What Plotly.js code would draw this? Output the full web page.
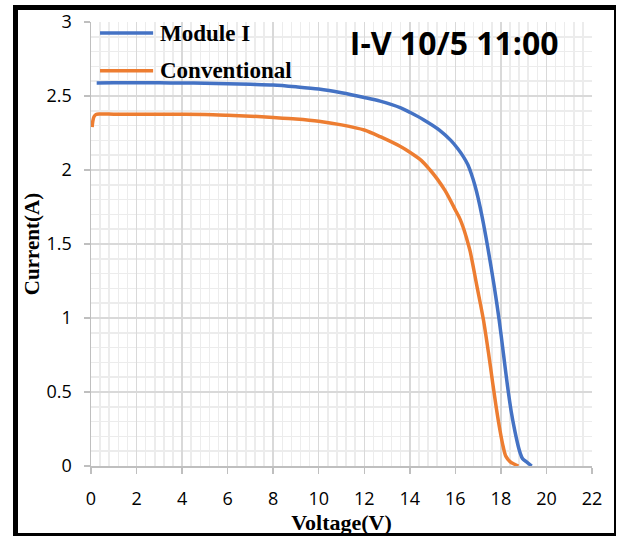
<!DOCTYPE html>
<html>
<head>
<meta charset="utf-8">
<script src="https://cdn.plot.ly/plotly-3.0.1.min.js"></script>
<style>
  html, body { margin: 0; padding: 0; background: #fff; }
  #chart { position: absolute; left: 0; top: 0; width: 620px; height: 536px; }
  #frame { position: absolute; left: 13px; top: 5px; width: 603px; height: 531px;
           box-sizing: border-box; border-left: 5px solid #000; border-top: 5px solid #000;
           border-right: 2px solid #000; border-bottom: 3px solid #000; pointer-events: none; }
</style>
</head>
<body>
<div id="chart"></div>
<div id="frame"></div>
<script>
// ---- data ----
const chartTitle = "I-V 10/5 11:00";
const xTitle = "Voltage(V)";
const yTitle = "Current(A)";
const seriesNames = ["Module I", "Conventional"];
const seriesColors = ["#4472C4", "#ED7D31"];

const moduleV = [0.25, 1, 2, 3, 4, 5, 6, 7, 8, 9, 10, 11, 12, 12.7, 13.6, 14, 14.6, 15.3, 15.8, 16.1, 16.35, 16.55, 16.7, 16.86, 17.0, 17.18, 17.42, 17.7, 17.92, 18.11, 18.29, 18.45, 18.62, 18.75, 18.84, 18.95, 19.15, 19.35];
const moduleI = [2.588, 2.589, 2.589, 2.589, 2.588, 2.586, 2.583, 2.579, 2.574, 2.562, 2.547, 2.522, 2.49, 2.465, 2.42, 2.39, 2.34, 2.27, 2.2, 2.145, 2.09, 2.035, 1.975, 1.895, 1.81, 1.68, 1.48, 1.22, 0.99, 0.76, 0.54, 0.37, 0.23, 0.14, 0.09, 0.05, 0.025, 0.0];

const convV = [0.05, 0.08, 0.13, 0.22, 0.4, 1, 2, 3, 4, 5, 6, 7, 8, 9, 10, 11, 12, 12.7, 13.57, 14, 14.5, 14.89, 15.2, 15.55, 16, 16.2, 16.35, 16.5, 16.65, 16.94, 17.23, 17.45, 17.64, 17.8, 17.96, 18.1, 18.22, 18.4, 18.6, 18.77];
const convI = [2.29, 2.33, 2.36, 2.375, 2.378, 2.377, 2.376, 2.376, 2.376, 2.375, 2.37, 2.364, 2.355, 2.345, 2.33, 2.305, 2.27, 2.225, 2.16, 2.12, 2.065, 2.0, 1.94, 1.86, 1.73, 1.67, 1.61, 1.535, 1.45, 1.22, 0.99, 0.77, 0.56, 0.39, 0.24, 0.13, 0.065, 0.03, 0.012, 0.0];

const xTicks = [0, 2, 4, 6, 8, 10, 12, 14, 16, 18, 20, 22];
const yTicks = [0, 0.5, 1, 1.5, 2, 2.5, 3];
const yTickText = ["0", "0.5", "1", "1.5", "2", "2.5", "3"];

// ---- chart ----
const traces = [
  { x: moduleV, y: moduleI, name: seriesNames[0], mode: "lines", type: "scatter",
    line: { color: seriesColors[0], width: 3.5, shape: "spline", smoothing: 0.8 } },
  { x: convV, y: convI, name: seriesNames[1], mode: "lines", type: "scatter",
    line: { color: seriesColors[1], width: 3.5, shape: "spline", smoothing: 0.8 } }
];

const tickFont = { family: "Open Sans, sans-serif", size: 18, color: "#000" };
const serifBold = "Liberation Serif, Times New Roman, serif";

const legendX0 = [0.018, 0.018], legendX1 = [0.124, 0.124], legendY = [0.975, 0.89];
const shapes = [], annotations = [];
seriesNames.forEach((n, i) => {
  shapes.push({ type: "line", xref: "paper", yref: "paper", x0: legendX0[i], x1: legendX1[i],
    y0: legendY[i], y1: legendY[i], line: { color: seriesColors[i], width: 3.5 } });
  annotations.push({ text: "<b>" + n + "</b>", xref: "paper", yref: "paper", x: 0.133, y: legendY[i],
    xanchor: "left", yanchor: "middle", showarrow: false,
    font: { family: serifBold, size: 23, color: "#000" } });
});

const layout = {
  width: 620, height: 536,
  margin: { l: 91, r: 28, t: 22, b: 70 },
  paper_bgcolor: "#fff", plot_bgcolor: "#fff",
  showlegend: false,
  title: { text: "<b>" + chartTitle + "</b>", x: 0.725, xanchor: "center", xref: "paper",
    y: 0.918, yanchor: "middle", yref: "container",
    font: { family: "Open Sans, sans-serif", size: 32, color: "#000" } },
  xaxis: {
    range: [0, 22], tickvals: xTicks, ticktext: xTicks.map(String),
    showline: true, linecolor: "#bfbfbf", linewidth: 1.5,
    ticks: "outside", ticklen: 6, tickcolor: "#bfbfbf", tickwidth: 1.5,
    ticklabelstandoff: 10,
    showgrid: true, gridcolor: "#d9d9d9", gridwidth: 1.5,
    minor: { dtick: 0.4, showgrid: true, gridcolor: "#ececec", gridwidth: 1.5 },
    zeroline: false, tickfont: tickFont,
    title: { text: "<b>" + xTitle + "</b>", standoff: 0, font: { family: serifBold, size: 22, color: "#000" } }
  },
  yaxis: {
    range: [0, 3], tickvals: yTicks, ticktext: yTickText,
    showline: true, linecolor: "#bfbfbf", linewidth: 1.5,
    ticks: "outside", ticklen: 6, tickcolor: "#bfbfbf", tickwidth: 1.5,
    ticklabelstandoff: 8,
    showgrid: true, gridcolor: "#d9d9d9", gridwidth: 1.5,
    minor: { dtick: 0.1, showgrid: true, gridcolor: "#ececec", gridwidth: 1.5 },
    zeroline: false, tickfont: tickFont,
    title: { text: "<b>" + yTitle + "</b>", standoff: 1, font: { family: serifBold, size: 21, color: "#000" } }
  },
  shapes: shapes,
  annotations: annotations
};

Plotly.newPlot("chart", traces, layout, { displayModeBar: false, staticPlot: true });
</script>
</body>
</html>
